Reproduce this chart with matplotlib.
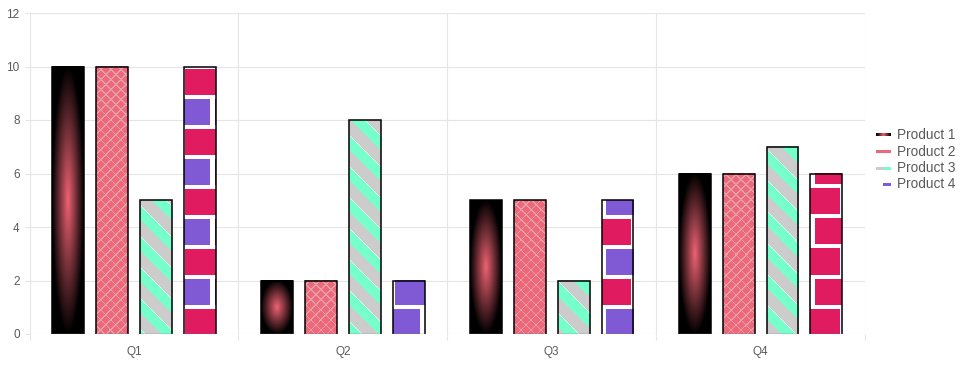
import numpy as np
import matplotlib
matplotlib.use("Agg")
import matplotlib.pyplot as plt
from matplotlib.patches import Rectangle

# ---------------- data ----------------
categories = ['Q1', 'Q2', 'Q3', 'Q4']
series_names = ['Product 1', 'Product 2', 'Product 3', 'Product 4']
product1 = [10, 2, 5, 6]
product2 = [10, 2, 5, 6]
product3 = [5, 8, 2, 7]
product4 = [10, 2, 5, 6]
y_ticks = [0, 2, 4, 6, 8, 10, 12]

# ---------------- style ----------------
W, H = 965, 371
plt.rcParams['font.family'] = ['Liberation Sans', 'DejaVu Sans']
GRID = '#e5e5e5'
TXT = '#5a5a5a'
PINK_C = np.array([238, 98, 114]) / 255.0
HATCH_BASE = np.array([238, 104, 122]) / 255.0
HATCH_LINE = np.array([226, 160, 170]) / 255.0
GRAY = np.array([204, 204, 204]) / 255.0
AQUA = np.array([118, 255, 203]) / 255.0
STRIPE_LIGHT = np.array([225, 250, 240]) / 255.0
RED = np.array([224, 27, 96]) / 255.0
PURPLE = np.array([128, 90, 213]) / 255.0
WHITE = np.array([1.0, 1.0, 1.0])

fig = plt.figure(figsize=(W / 100, H / 100), dpi=100)
ax = fig.add_axes([29.5 / W, (H - 334) / H, 835.5 / W, (334 - 13) / H])
ax.set_xlim(-0.5, len(categories) - 0.5)
ax.set_ylim(0, 12)

offsets = [-0.315, -0.105, 0.105, 0.315]
bw = 0.153


# pattern functions operate on screen pixel coords (X right, Y down)
def pat_gradient(XX, YY, L, R, T, B):
    cx, cy = (L + R) / 2, (T + B) / 2
    hw, hh = (R - L) / 2, (B - T) / 2
    r = np.sqrt(((XX - cx) / hw) ** 2 + ((YY - cy) / hh) ** 2)
    t = np.clip(1 - r, 0, 1)[..., None]
    return PINK_C * t


def pat_cross(XX, YY, L, R, T, B):
    a = np.mod(XX + YY, 10.0) < 1.6
    b = np.mod(XX - YY, 10.0) < 1.6
    img = np.empty(XX.shape + (3,))
    img[:] = HATCH_BASE
    img[a | b] = HATCH_LINE
    return img


def pat_stripes(XX, YY, L, R, T, B):
    P = 31.0
    d = np.mod(YY - XX + 214.4, P)
    img = np.empty(XX.shape + (3,))
    img[:] = GRAY
    img[d < P / 2] = AQUA
    img[d < 1.0] = STRIPE_LIGHT
    return img


def pat_bricks(XX, YY, L, R, T, B):
    s = np.mod(YY - 309, 60)
    rowgap = ((s >= 26) & (s < 30)) | (s >= 56)
    typeA = s < 30
    shift = np.where(typeA, 0.0, 30.0)
    u = XX - shift
    colgap = np.mod(u, 60) < 5
    k = np.floor(u / 60).astype(int)
    img = np.empty(XX.shape + (3,))
    img[:] = PURPLE
    img[(k % 2) == 1] = RED
    img[rowgap | colgap] = WHITE
    return img


def bar_image(xc, h, func):
    x0, x1 = xc - bw / 2, xc + bw / 2
    (X0, Yb), (X1, Yt) = ax.transData.transform([(x0, 0), (x1, h)])
    nx = max(1, int(round(X1 - X0)))
    ny = max(1, int(round(Yt - Yb)))
    px = X0 + (np.arange(nx) + 0.5) * (X1 - X0) / nx
    pyd = Yt - (np.arange(ny) + 0.5) * (Yt - Yb) / ny
    XX, YY = np.meshgrid(px, H - pyd)
    img = func(XX, YY, X0, X1, H - Yt, H - Yb)
    ax.imshow(img, extent=(x0, x1, 0, h), origin='upper',
              interpolation='nearest', aspect='auto', zorder=2)
    ax.plot([x0, x0, x1, x1], [0, h, h, 0], color='black', lw=1.1,
            zorder=3, solid_joinstyle='miter')
    ax.plot([x0, x1], [0, 0], color='#777777', lw=1.0, zorder=3)


series = [product1, product2, product3, product4]
funcs = [pat_gradient, pat_cross, pat_stripes, pat_bricks]
for si, (vals, fn) in enumerate(zip(series, funcs)):
    for ci, v in enumerate(vals):
        bar_image(ci + offsets[si], v, fn)

ax.set_xlim(-0.5, len(categories) - 0.5)
ax.set_ylim(0, 12)

# grid & ticks
ax.set_yticks(y_ticks)
ax.set_xticks(range(len(categories)))
ax.set_xticklabels(categories)
ax.set_xticks(np.arange(len(categories) + 1) - 0.5, minor=True)
ax.grid(False)
for yv in y_ticks:
    ax.axhline(yv, color=GRID, lw=0.8, zorder=0)
for xv in np.arange(len(categories) + 1) - 0.5:
    ax.axvline(xv, color=GRID, lw=0.8, zorder=0)
for sp in ax.spines.values():
    sp.set_visible(False)
ax.tick_params(axis='y', length=3.6, width=0.8, color=GRID, pad=3.5,
               labelsize=8.5, labelcolor=TXT)
ax.tick_params(axis='x', which='major', length=0, pad=9,
               labelsize=8.5, labelcolor=TXT)
ax.tick_params(axis='x', which='minor', length=4.3, width=0.8, color=GRID)

# legend (drawn manually at right)
ov = fig.add_axes([0, 0, 1, 1], zorder=5)
ov.set_xlim(0, W)
ov.set_ylim(H, 0)
ov.axis('off')
rows_y = [135, 151.7, 168.2, 184.5]
sw_x0, sw_x1 = 876, 891
sh = 3.0
# Product 1: black-pink-black
xs = np.linspace(0, 1, 64)
grad = np.clip(1 - np.abs(xs - 0.5) * 2.2, 0, 1)[None, :, None] * PINK_C
ov.imshow(np.repeat(grad, 2, axis=0), extent=(sw_x0, sw_x1, rows_y[0] + sh / 2, rows_y[0] - sh / 2),
          aspect='auto', interpolation='bilinear', zorder=6)
ov.set_xlim(0, W)
ov.set_ylim(H, 0)
ov.add_patch(Rectangle((sw_x0, rows_y[1] - sh / 2), sw_x1 - sw_x0, sh, color=HATCH_BASE, lw=0))
ov.add_patch(Rectangle((sw_x0, rows_y[2] - sh / 2), (sw_x1 - sw_x0) / 2, sh, color=GRAY, lw=0))
ov.add_patch(Rectangle(((sw_x0 + sw_x1) / 2, rows_y[2] - sh / 2), (sw_x1 - sw_x0) / 2, sh, color=AQUA, lw=0))
ov.add_patch(Rectangle((sw_x0 + 6.5, rows_y[3] - sh / 2), sw_x1 - sw_x0 - 6.5, sh, color=PURPLE, lw=0))
for yv, name in zip(rows_y, series_names):
    ov.text(897, yv, name, va='center', ha='left', fontsize=9.8, color=TXT)

fig.savefig('out.png', dpi=100)
